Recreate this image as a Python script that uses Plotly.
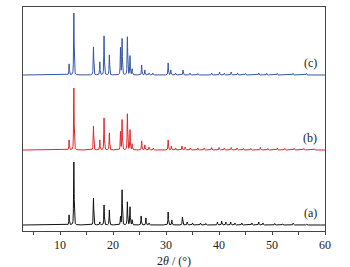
import numpy as np
import plotly.graph_objects as go

# Peak positions (2theta, deg) and heights (relative)
pos_a = [11.7, 12.6, 16.3, 17.5, 18.3, 19.3, 21.4, 21.7, 22.7, 23.2, 23.6, 25.3, 26.2, 26.8, 30.4, 31.1, 33.1, 34.0, 35.0, 36.5, 37.5,
         39.7, 40.5, 41.3, 42.2, 43.0, 44.3, 46.2, 47.5, 48.3, 50.5, 52.0, 54.0, 56.5]
hgt_a = [10, 63, 27, 3, 20, 15, 8, 35, 23, 18, 5, 9, 7, 2, 13, 5, 8, 3, 2, 2, 1.5,
         3, 4, 3, 3, 2, 2, 2, 3, 2, 1.5, 1.2, 2, 1]

pos_b = [11.7, 12.6, 16.3, 17.5, 18.3, 19.3, 21.4, 21.7, 22.7, 23.2, 23.6, 25.4, 26.0, 26.8, 27.6, 30.4, 31.0, 31.8, 33.0, 33.6, 34.6,
         36.0, 37.2, 38.6, 40.0, 41.0, 42.3, 43.4, 44.6, 46.0, 47.8, 49.2, 51.0, 52.4, 54.2, 56.0, 58.0]
hgt_b = [10, 62, 24, 10, 32, 17, 18, 30, 36, 20, 6, 9, 5, 3, 2, 10, 4, 2, 4, 3, 2,
         2, 2, 2.5, 2.5, 2, 2.5, 2, 1.5, 1.5, 2.5, 1.5, 2, 1.5, 1.5, 1.5, 1.2]

pos_c = [11.7, 12.6, 16.3, 17.5, 18.3, 19.3, 21.4, 21.7, 22.7, 23.2, 23.6, 25.4, 26.0, 26.8, 27.5, 30.4, 30.9, 31.8, 33.2, 34.5,
         36.0, 38.6, 40.1, 41.0, 42.3, 43.5, 45.0, 47.5, 49.0, 51.0, 54.0, 56.5]
hgt_c = [11, 62, 28, 13, 39, 20, 27, 36, 38, 19, 6, 10, 5, 2, 2, 12, 5, 2, 5, 2,
         1.5, 2, 3, 2, 3, 2, 1.5, 2, 1.5, 1.5, 1.5, 1.5]

series = [
    ("(a)", pos_a, hgt_a, "#111111", 6),
    ("(b)", pos_b, hgt_b, "#e0262a", 81),
    ("(c)", pos_c, hgt_c, "#3556a6", 156),
]

x_tick_vals = [10, 20, 30, 40, 50, 60]
x_tick_text = ["10", "20", "30", "40", "50", "60"]

SERIF = "Times New Roman"

x = np.arange(3.0, 60.0001, 0.01)
fwhm = 0.12


def profile(p, h):
    y = np.zeros_like(x)
    g = fwhm / 2
    for c, a in zip(p, h):
        lor = g * g / ((x - c) ** 2 + g * g)
        gau = np.exp(-4 * np.log(2) * (x - c) ** 2 / fwhm ** 2)
        y += a * (0.5 * lor + 0.5 * gau)
    return y


fig = go.Figure()
for name, p, h, col, off in series:
    fig.add_trace(go.Scatter(x=x, y=profile(p, h) + off, mode="lines",
                             line=dict(color=col, width=1), showlegend=False,
                             hoverinfo="skip"))
    fig.add_annotation(x=57.2, y=off + 12, text=name, showarrow=False,
                       font=dict(family=SERIF, size=12, color="#222"))

fig.add_annotation(xref="paper", yref="paper", x=0.5, y=0, yanchor="middle",
                   yshift=-30, text="2<i>θ</i> / (°)", showarrow=False,
                   font=dict(family=SERIF, size=12, color="#222"))

fig.update_layout(
    width=350, height=267,
    margin=dict(l=23, r=25, t=7, b=36),
    paper_bgcolor="white", plot_bgcolor="white",
    font=dict(family=SERIF, size=12, color="#222"),
)
fig.update_xaxes(range=[3, 60], tickvals=x_tick_vals, ticktext=x_tick_text,
                 ticks="outside", ticklen=3, tickcolor="#444",
                 minor=dict(dtick=5, tick0=0, ticks="outside", ticklen=3, tickcolor="#444"),
                 showline=True, linecolor="#444", linewidth=1, mirror=True,
                 showgrid=False, zeroline=False,
                 tickfont=dict(family=SERIF, size=12, color="#222"))
fig.update_yaxes(range=[0, 224], showticklabels=False, ticks="",
                 showline=True, linecolor="#444", linewidth=1, mirror=True,
                 showgrid=False, zeroline=False)

fig.write_html("out.html", config={"displayModeBar": False},
               post_script="document.body.style.margin='0';")
